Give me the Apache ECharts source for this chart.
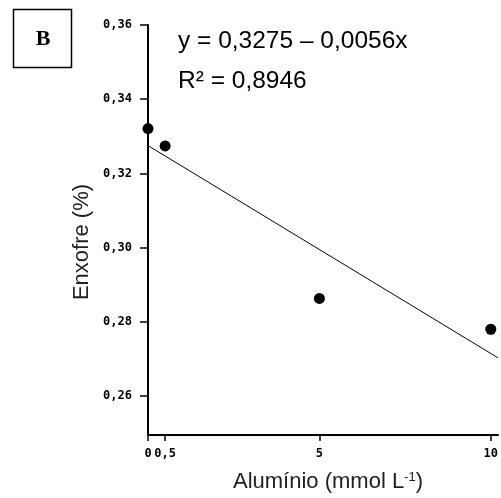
<!DOCTYPE html>
<html>
<head>
<meta charset="utf-8">
<style>
  html, body { margin: 0; padding: 0; background: #fff; }
  #chart { width: 501px; height: 498px; }
</style>
</head>
<body>
<div id="chart"></div>
<script src="https://cdn.jsdelivr.net/npm/echarts@6/dist/echarts.min.js"></script>
<script>
// valores
var aluminio = [0, 0.5, 5, 10];
var enxofre = [0.3321, 0.3274, 0.2863, 0.2780];
// reta ajustada y = 0,3275 - 0,0056x (pontos extremos)
var retaX = [0, 10.21];
var retaY = [0.3275, 0.2703];
var xTicks = [0, 0.5, 5, 10];
var yTicks = [0.26, 0.28, 0.30, 0.32, 0.34, 0.36];

var comma = function (s) { return String(s).replace('.', ','); };

var chart = echarts.init(document.getElementById('chart'));
chart.setOption({
    backgroundColor: '#fff',
    animation: false,
    grid: { left: 148, top: 25, width: 350, height: 412 },
    xAxis: {
        type: 'value',
        min: 0,
        max: 10.21,
        splitLine: { show: false },
        axisLine: { lineStyle: { color: '#000', width: 2 } },
        axisTick: { length: 6, lineStyle: { color: '#000', width: 1.5 }, customValues: xTicks },
        axisLabel: {
            customValues: xTicks,
            margin: 13,
            color: '#000',
            fontFamily: 'DejaVu Sans Mono',
            fontWeight: 'bold',
            fontSize: 12,
            formatter: function (v) { return comma(v); }
        },
        name: 'Alumínio (mmol L{sup|-1})',
        nameLocation: 'middle',
        nameGap: 36,
        nameTextStyle: {
            color: '#222',
            fontFamily: 'Liberation Sans',
            fontSize: 22,
            padding: [0, 0, 0, 10],
            rich: {
                sup: { fontSize: 13, verticalAlign: 'top', color: '#222', fontFamily: 'Liberation Sans' }
            }
        }
    },
    yAxis: {
        type: 'value',
        min: 0.2495,
        max: 0.36,
        splitLine: { show: false },
        axisLine: { lineStyle: { color: '#000', width: 2 } },
        axisTick: { length: 8, lineStyle: { color: '#000', width: 1.5 }, customValues: yTicks },
        axisLabel: {
            customValues: yTicks,
            margin: 16,
            color: '#000',
            fontFamily: 'DejaVu Sans Mono',
            fontWeight: 'bold',
            fontSize: 12,
            formatter: function (v) { return comma(v.toFixed(2)); }
        }
    },
    series: [
        {
            type: 'line',
            data: retaX.map(function (x, i) { return [x, retaY[i]]; }),
            showSymbol: false,
            lineStyle: { color: '#000', width: 1 },
            z: 2
        },
        {
            type: 'scatter',
            data: aluminio.map(function (x, i) { return [x, enxofre[i]]; }),
            symbol: 'circle',
            symbolSize: 11,
            itemStyle: { color: '#000', opacity: 1 },
            clip: false,
            z: 3
        }
    ],
    graphic: [
        {
            type: 'rect',
            shape: { x: 13.5, y: 9.5, width: 58, height: 58 },
            style: { fill: '#fff', stroke: '#000', lineWidth: 1.5 }
        },
        {
            type: 'text',
            x: 43, y: 39,
            style: {
                text: 'B', fill: '#000',
                font: 'bold 22px "Liberation Serif"',
                align: 'center', verticalAlign: 'middle'
            }
        },
        {
            type: 'text',
            x: 178, y: 41,
            style: {
                text: 'y = 0,3275 – 0,0056x', fill: '#000',
                font: '24.5px "Liberation Sans"',
                align: 'left', verticalAlign: 'middle'
            }
        },
        {
            type: 'text',
            x: 178, y: 81,
            style: {
                text: 'R² = 0,8946', fill: '#000',
                font: '24.5px "Liberation Sans"',
                align: 'left', verticalAlign: 'middle'
            }
        },
        {
            type: 'text',
            x: 82, y: 242,
            rotation: Math.PI / 2,
            style: {
                text: 'Enxofre (%)', fill: '#222',
                font: '22px "Liberation Sans"',
                align: 'center', verticalAlign: 'middle'
            }
        }
    ]
});
</script>
</body>
</html>
